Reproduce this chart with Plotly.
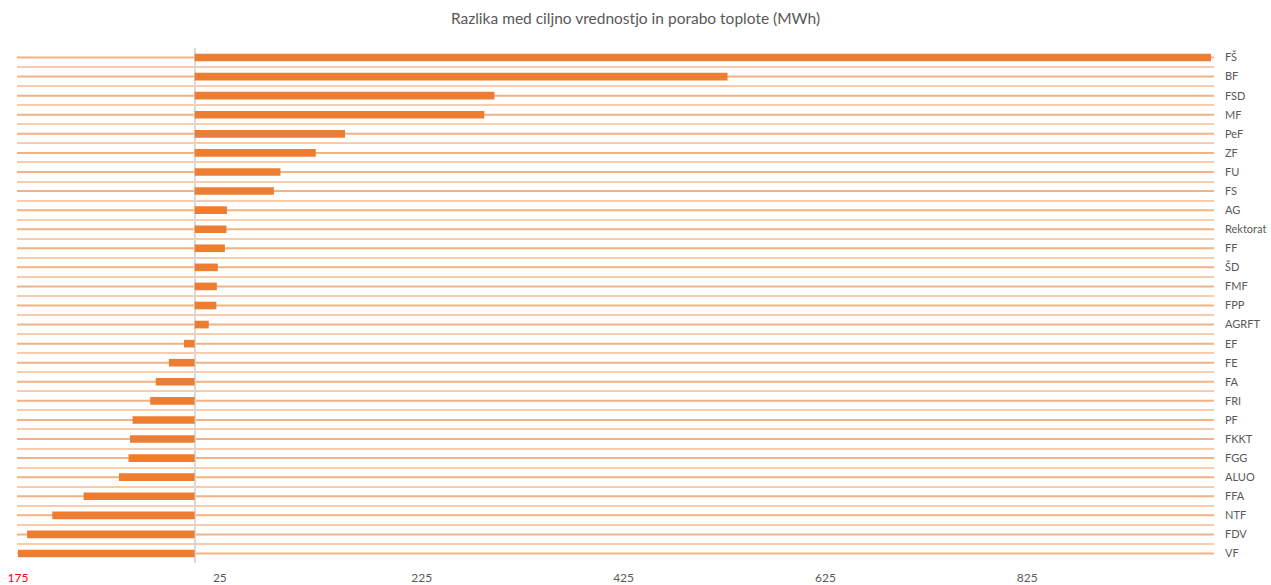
import plotly.graph_objects as go

categories = ["FŠ", "BF", "FSD", "MF", "PeF", "ZF", "FU", "FS", "AG", "Rektorat",
              "FF", "ŠD", "FMF", "FPP", "AGRFT", "EF", "FE", "FA", "FRI", "PF",
              "FKKT", "FGG", "ALUO", "FFA", "NTF", "FDV", "VF"]
values = [1007, 528, 297, 287, 149, 120, 85, 78.5, 32, 31.5,
          30, 23, 22, 21.5, 14, -10.5, -25.5, -38.5, -44, -61.5,
          -64, -65.5, -75, -110, -141, -166, -175]
x_tick_vals = [-175, 25, 225, 425, 625, 825]
x_tick_text = ['<span style="color:#FF0000">175</span>', "25", "225", "425", "625", "825"]

title_text = "Razlika med ciljno vrednostjo in porabo toplote (MWh)"
FONT = "Lato, Open Sans, sans-serif"

fig = go.Figure()
fig.add_trace(go.Bar(
    x=values, y=categories, orientation="h",
    marker=dict(color="#ED7D31", line=dict(width=0)),
    showlegend=False,
))

# lines through the centre of each category row
shapes = []
for c in categories:
    shapes.append(dict(type="line", xref="paper", x0=0, x1=1, yref="y", y0=c, y1=c,
                       line=dict(color="#F4B183", width=2), layer="below"))

fig.update_layout(
    width=1271, height=585,
    margin=dict(l=17, r=57, t=48, b=22, autoexpand=False),
    paper_bgcolor="white", plot_bgcolor="white",
    title=dict(text=title_text, x=0.5, xanchor="center", y=1 - 19 / 585, yanchor="middle",
               font=dict(family=FONT, size=15.5, color="#595959")),
    bargap=0.6,
    shapes=shapes,
    xaxis=dict(range=[-176, 1010], tickvals=x_tick_vals, ticktext=x_tick_text,
               showgrid=False, zeroline=True, zerolinecolor="#D9D9D9", zerolinewidth=1.5,
               showline=False, ticks="", automargin=False, ticklabeloverflow="allow",
               ticklabelstandoff=6,
               tickfont=dict(family=FONT, size=12, color="#595959")),
    yaxis=dict(type="category", categoryorder="array", categoryarray=categories,
               autorange="reversed", side="right", tickson="boundaries",
               showgrid=True, gridcolor="#F8CBAD", gridwidth=2, ticks="",
               showline=False, zeroline=False, ticklabelstandoff=10, automargin=False,
               ticklabeloverflow="allow",
               tickfont=dict(family=FONT, size=11, color="#595959")),
)

fig.write_html("out.html", config={"displayModeBar": False},
               post_script="document.body.style.margin='0';document.body.style.overflow='hidden';")
